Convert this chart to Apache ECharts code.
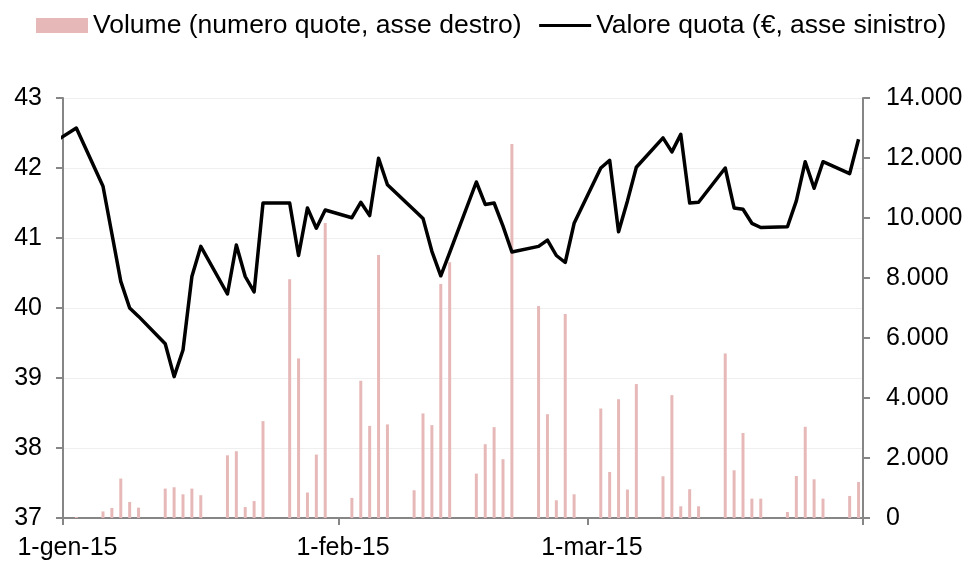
<!DOCTYPE html>
<html lang="it">
  <head>
    <meta charset="UTF-8" />
    <title>Valore quota e volume</title>
    <style>
      * {
        padding: 0;
        margin: 0;
      }
      body {
        background: #fff;
        overflow: hidden;
      }
      #chart {
        width: 970px;
        height: 561px;
      }
    </style>
    <script src="https://cdn.jsdelivr.net/npm/echarts@6/dist/echarts.min.js"></script>
  </head>
  <body>
    <div id="chart"></div>
  </body>
  <script>
    // giorni di quotazione (31-dic serve solo per far partire la linea dal bordo)
    const dates = [
      "2014-12-31",
      "2015-01-02", "2015-01-05", "2015-01-06", "2015-01-07", "2015-01-08", "2015-01-09",
      "2015-01-12", "2015-01-13", "2015-01-14", "2015-01-15", "2015-01-16",
      "2015-01-19", "2015-01-20", "2015-01-21", "2015-01-22", "2015-01-23",
      "2015-01-26", "2015-01-27", "2015-01-28", "2015-01-29", "2015-01-30",
      "2015-02-02", "2015-02-03", "2015-02-04", "2015-02-05", "2015-02-06",
      "2015-02-09", "2015-02-10", "2015-02-11", "2015-02-12", "2015-02-13",
      "2015-02-16", "2015-02-17", "2015-02-18", "2015-02-19", "2015-02-20",
      "2015-02-23", "2015-02-24", "2015-02-25", "2015-02-26", "2015-02-27",
      "2015-03-02", "2015-03-03", "2015-03-04", "2015-03-05", "2015-03-06",
      "2015-03-09", "2015-03-10", "2015-03-11", "2015-03-12", "2015-03-13",
      "2015-03-16", "2015-03-17", "2015-03-18", "2015-03-19", "2015-03-20",
      "2015-03-23", "2015-03-24", "2015-03-25", "2015-03-26", "2015-03-27",
      "2015-03-30", "2015-03-31",
    ];

    // valore quota in euro (asse sinistro)
    const valoreQuota = [
      42.41,
      42.57, 41.74, 41.06, 40.38, 40.0, 39.88,
      39.49, 39.02, 39.4, 40.45, 40.88,
      40.2, 40.9, 40.45, 40.23, 41.5,
      41.5, 40.75, 41.43, 41.14, 41.4,
      41.29, 41.51, 41.32, 42.14, 41.76,
      41.4, 41.28, 40.81, 40.46, 40.79,
      41.8, 41.48, 41.5, 41.17, 40.8,
      40.88, 40.97, 40.75, 40.65, 41.21,
      42.0, 42.11, 41.09, 41.53, 42.01,
      42.43, 42.23, 42.48, 41.5, 41.51,
      42.0, 41.43, 41.41, 41.21, 41.15,
      41.16, 41.53, 42.09, 41.71, 42.09,
      41.92, 42.41,
    ];

    // volume in numero di quote (asse destro)
    const volume = [
      null,
      30, 220, 335, 1315, 535, 345,
      980, 1025, 790, 980, 760,
      2090, 2225, 365, 565, 3230,
      7960, 5320, 850, 2115, 9830,
      670, 4575, 3070, 8770, 3120,
      925, 3485, 3095, 7800, 8525,
      1480, 2460, 3030, 1960, 12465,
      7065, 3460, 590, 6800, 790,
      3650, 1535, 3960, 950, 4465,
      1390, 4095, 390, 960, 390,
      5485, 1590, 2835, 645, 645,
      200, 1400, 3040, 1290, 645,
      735, 1200,
    ];

    const legendNames = [
      "Volume (numero quote, asse destro)",
      "Valore quota (€, asse sinistro)",
    ];
    const mesi = ["gen", "feb", "mar", "apr"];
    const tickDates = ["2015-01-01", "2015-02-01", "2015-03-01", "2015-04-01"];
    const labelDates = ["2015-01-01", "2015-02-01", "2015-03-01"];

    const font = "Liberation Sans, Arial, sans-serif";
    const axisGray = "#868686";

    const toTs = (s, h) => {
      const p = s.split("-").map(Number);
      return Date.UTC(p[0], p[1] - 1, p[2], h || 0);
    };
    // ogni giorno occupa una cella: i punti stanno a mezzogiorno
    const lineData = dates.map((d, i) => [toTs(d, 12), valoreQuota[i]]);
    const barData = dates.map((d, i) => [toTs(d, 12), volume[i]]);

    const thousands = (v) => String(v).replace(/\B(?=(\d{3})+(?!\d))/g, ".");

    const chart = echarts.init(document.getElementById("chart"));
    chart.setOption({
      animation: false,
      textStyle: { fontFamily: font },
      legend: {
        left: 36,
        top: 12,
        padding: 0,
        itemWidth: 52,
        itemHeight: 15,
        itemGap: 16,
        textStyle: { fontSize: 26.5, color: "#000", fontFamily: font },
        data: [
          { name: legendNames[0], icon: "rect" },
          // solo la linea, senza il pallino
          {
            name: legendNames[1],
            itemStyle: { color: "rgba(0,0,0,0)", borderWidth: 0 },
            lineStyle: { color: "#000", width: 3 },
          },
        ],
      },
      grid: { left: 63, right: 107, top: 98, bottom: 43, containLabel: false },
      xAxis: {
        // asse lineare in millisecondi: 1 gen -> 1 apr
        type: "value",
        min: toTs(tickDates[0]),
        max: toTs(tickDates[3]),
        axisLine: { lineStyle: { color: axisGray, width: 2 } },
        axisTick: {
          show: true,
          length: 7,
          lineStyle: { color: axisGray, width: 2 },
          customValues: tickDates.map((d) => toTs(d)),
        },
        axisLabel: {
          color: "#000",
          fontSize: 25,
          fontFamily: font,
          margin: 18,
          customValues: labelDates.map((d) => toTs(d, 12)),
          formatter: (v) => {
            const d = new Date(v);
            return (
              d.getUTCDate() + "-" + mesi[d.getUTCMonth()] + "-" + String(d.getUTCFullYear()).slice(2)
            );
          },
        },
        splitLine: { show: false },
      },
      yAxis: [
        {
          type: "value",
          position: "left",
          min: 37,
          max: 43,
          interval: 1,
          axisLine: { show: true, lineStyle: { color: axisGray, width: 2 } },
          axisTick: { show: true, length: 7, lineStyle: { color: axisGray, width: 2 } },
          axisLabel: { color: "#000", fontSize: 25, fontFamily: font, margin: 21 },
          splitLine: { show: true, lineStyle: { color: "#efefef", width: 1 } },
        },
        {
          type: "value",
          position: "right",
          min: 0,
          max: 14000,
          interval: 2000,
          axisLine: { show: true, lineStyle: { color: axisGray, width: 2 } },
          axisTick: { show: true, length: 7, lineStyle: { color: axisGray, width: 2 } },
          axisLabel: {
            color: "#000",
            fontSize: 25,
            fontFamily: font,
            margin: 23,
            formatter: thousands,
          },
          splitLine: { show: false },
        },
      ],
      series: [
        {
          name: legendNames[0],
          type: "bar",
          yAxisIndex: 1,
          barWidth: 3,
          itemStyle: { color: "#E6B9B8" },
          data: barData,
        },
        {
          name: legendNames[1],
          type: "line",
          yAxisIndex: 0,
          symbol: "none",
          clip: true,
          itemStyle: { color: "#000" },
          lineStyle: { color: "#000", width: 3.5, join: "round" },
          data: lineData,
        },
      ],
    });
  </script>
</html>
